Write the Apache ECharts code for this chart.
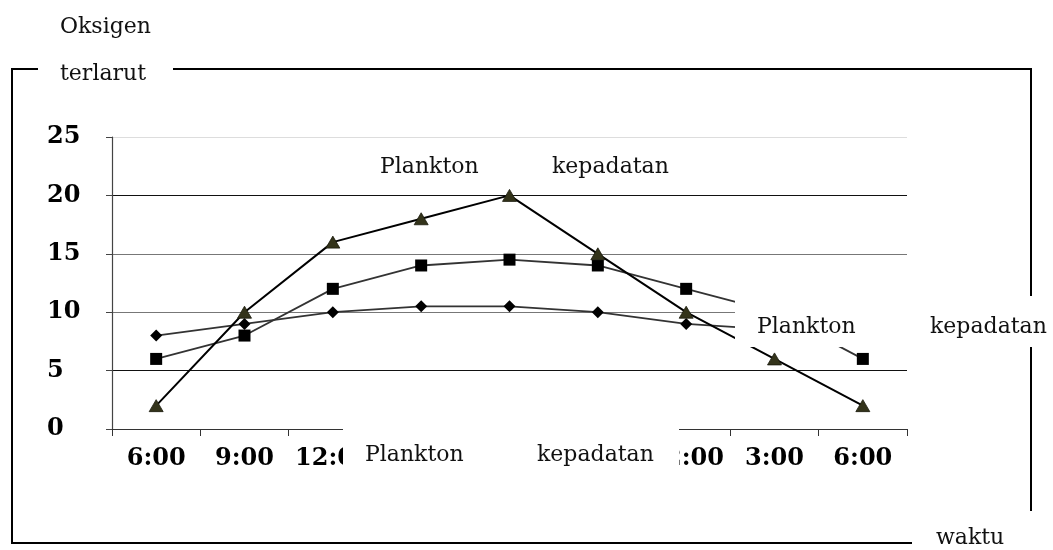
<!DOCTYPE html>
<html>
<head>
<meta charset="utf-8">
<script src="https://cdn.jsdelivr.net/npm/echarts@6/dist/echarts.min.js"></script>
<style>
html,body{margin:0;padding:0;background:#fff;}
#chart{width:1053px;height:550px;}
</style>
</head>
<body>
<div id="chart"></div>
<script>
// ---- data ----
const categories = ['6:00', '9:00', '12:00', '3:00', '6:00', '9:00', '12:00', '3:00', '6:00'];
const diamondValues = [8, 9, 10, 10.5, 10.5, 10, 9, 8.5, 8];
const squareValues = [6, 8, 12, 14, 14.5, 14, 12, 10, 6];
const triangleValues = [2, 10, 16, 18, 20, 15, 10, 6, 2];
const yMin = 0, yMax = 25, yInterval = 5;
const yAxisTitle = ['Oksigen', 'terlarut'];
const xAxisTitle = 'waktu';
const boxWords = ['Plankton', 'kepadatan'];

const serifFont = '22px "DejaVu Serif"';
function txt(t, x, y) {
  return { type: 'text', z: 101, style: { text: t, x: x, y: y, font: serifFont, fill: '#111', textAlign: 'left', textVerticalAlign: 'middle' } };
}
function whiteRect(x, y, w, h) {
  return { type: 'rect', z: 100, shape: { x: x, y: y, width: w, height: h }, style: { fill: '#fff' } };
}
function frameLine(x1, y1, x2, y2) {
  return { type: 'line', z: 1, shape: { x1: x1, y1: y1, x2: x2, y2: y2 }, style: { stroke: '#000', lineWidth: 2 } };
}

const chart = echarts.init(document.getElementById('chart'), null, { renderer: 'canvas' });
chart.setOption({
  animation: false,
  backgroundColor: '#fff',
  grid: { left: 112, right: 146, top: 137, bottom: 121, containLabel: false },
  xAxis: {
    type: 'category',
    data: categories,
    boundaryGap: true,
    axisLine: { show: true, lineStyle: { color: '#333', width: 1.2 } },
    axisTick: { show: true, length: 7, alignWithLabel: false, interval: 0, lineStyle: { color: '#333' } },
    axisLabel: { interval: 0, margin: 18, color: '#000', fontFamily: 'DejaVu Serif', fontWeight: 'bold', fontSize: 24 },
    splitLine: { show: false }
  },
  yAxis: {
    type: 'value',
    min: yMin, max: yMax, interval: yInterval,
    axisLine: { show: true, lineStyle: { color: '#444', width: 1.2 } },
    axisTick: { show: true, length: 6, lineStyle: { color: '#444' } },
    axisLabel: { margin: 65, align: 'left', color: '#000', fontFamily: 'DejaVu Serif', fontWeight: 'bold', fontSize: 24 },
    splitLine: { show: true, lineStyle: { color: ['#000', '#111', '#777', '#777', '#111', '#ddd'], width: 1.2 } }
  },
  series: [
    {
      type: 'line', data: diamondValues, symbol: 'diamond', symbolSize: [12, 12],
      lineStyle: { color: '#333', width: 1.8 }, itemStyle: { color: '#000' }, z: 3
    },
    {
      type: 'line', data: squareValues, symbol: 'rect', symbolSize: 12,
      lineStyle: { color: '#333', width: 1.8 }, itemStyle: { color: '#000' }, z: 4
    },
    {
      type: 'line', data: triangleValues, symbol: 'triangle', symbolSize: [14, 12],
      lineStyle: { color: '#000', width: 2 }, itemStyle: { color: '#33331a', borderColor: '#1a1a0d', borderWidth: 0.8 }, z: 5
    }
  ],
  graphic: [
    // outer frame
    frameLine(12, 69, 1031, 69),
    frameLine(12, 68, 12, 544),
    frameLine(1031, 68, 1031, 544),
    frameLine(11, 543, 1031, 543),
    // white text boxes
    whiteRect(38, 50, 135, 45),
    whiteRect(540, 181, 150, 9),
    whiteRect(735, 296, 318, 51),
    whiteRect(343, 426, 336, 60),
    whiteRect(912, 511, 141, 39),
    // texts
    txt(yAxisTitle[0], 60, 27),
    txt(yAxisTitle[1], 60, 74),
    txt(boxWords[0], 380, 167),
    txt(boxWords[1], 552, 167),
    txt(boxWords[0], 757, 327),
    txt(boxWords[1], 930, 327),
    txt(boxWords[0], 365, 455),
    txt(boxWords[1], 537, 455),
    txt(xAxisTitle, 936, 538)
  ]
});
</script>
</body>
</html>
